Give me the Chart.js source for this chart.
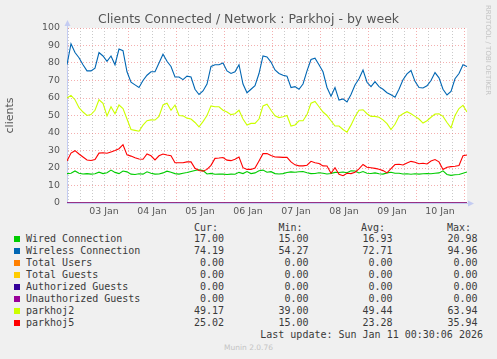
<!DOCTYPE html>
<html>
<head>
<meta charset="utf-8">
<script src="https://cdn.jsdelivr.net/npm/chart.js@4/dist/chart.umd.min.js"></script>
<style>
  body { margin: 0; background: #f0f0f0; }
  #wrap { position: relative; width: 497px; height: 359px; overflow: hidden; }
  #chart { position: absolute; left: 0; top: 0; }
  #title { position: absolute; left: 0; width: 497px; top: 10.5px; text-align: center;
           font: 12.5px "DejaVu Sans", sans-serif; color: #555; line-height: 15px; white-space: nowrap; }
  .mono { position: absolute; font: 10px "DejaVu Sans Mono", monospace; color: #3a3a3a; white-space: pre; line-height: 12px; }
  .sw { position: absolute; width: 6px; height: 6px; }
  #side { position: absolute; left: 492px; top: 5px; font: 7px "DejaVu Sans", sans-serif; color: #c4c4c4;
          white-space: nowrap; line-height: 9px; transform: rotate(90deg); transform-origin: left top; }
  #munin { position: absolute; left: 0; width: 497px; top: 343px; text-align: center;
           font: 7.5px "DejaVu Sans", sans-serif; color: #c4c4c4; line-height: 10px; }
</style>
</head>
<body>
<div id="wrap">
  <canvas id="chart" width="497" height="222"></canvas>
  <div id="title">Clients Connected / Network : Parkhoj - by week</div>
  <div id="side">RRDTOOL / TOBI OETIKER</div>
  <div id="legend"></div>
  <div id="munin">Munin 2.0.76</div>
</div>
<script>
// one sample every 2 hours, starting Fri 02 Jan ~17:30
const dayLabels = ['03 Jan', '04 Jan', '05 Jan', '06 Jan', '07 Jan', '08 Jan', '09 Jan', '10 Jan'];

const wired = [16.8, 17, 18.3, 17, 16.6, 16.8, 16.5, 16.7, 17.6, 16.8,
  17.3, 18.8, 17.5, 16.8, 18.3, 17.8, 16.5, 16.3, 16.7, 16.5,
  17.8, 17, 16.5, 16.6, 17.2, 18.2, 17.6, 16.8, 16.5, 17,
  17.4, 18, 18.6, 19, 18.5, 16.6, 16.9, 16.4, 16.6, 16.5,
  16.3, 16.5, 16.4, 17.5, 16.8, 18, 16.8, 17.2, 18.4, 18.8,
  17.6, 17.9, 16.8, 16.6, 16.8, 17.4, 17.8, 17.6, 17.9, 18,
  17.3, 16.8, 16.9, 17.3, 17, 16.6, 16.9, 17.5, 17.4, 17.7,
  17.3, 18.4, 18.3, 17.2, 18, 17, 16.9, 17.2, 16.7, 16.5,
  17.2, 17.6, 17, 17, 16.6, 16.7, 16.4, 16.7, 16.5, 16.7,
  16.8, 16.7, 17, 17.2, 18.4, 16.3, 15.8, 16.1, 16.3, 17,
  17.7];

const wireless = [79, 91, 86, 83, 79, 75.5, 75.5, 77, 86, 84,
  81, 84, 79, 88, 87, 75, 69, 67.5, 66, 70,
  73, 75, 75, 80, 85, 81, 78, 72, 72, 70.5,
  72.5, 72, 65, 62, 64, 68, 78, 79, 79, 80,
  75.5, 74, 75, 79, 68, 63, 65, 67, 74, 84,
  83.5, 80.5, 76, 74, 73, 72.5, 66, 66.5, 65, 68,
  75.5, 82, 82.7, 79, 75, 66, 61, 66, 58.8, 59.5,
  57.7, 62, 67.4, 71, 76, 69, 66.5, 69.3, 66.5, 65,
  63, 61.8, 60.5, 65, 70.4, 73.8, 75.7, 69.5, 66, 65.7,
  67, 70, 74.5, 71.5, 65, 61.7, 63.8, 71, 74, 79,
  78];

// Total Users / Total Guests / Authorized / Unauthorized are flat at 0.00
const zeroSeries = [0, 0, 0, 0, 0, 0, 0, 0, 0, 0, 0, 0, 0, 0, 0, 0, 0, 0, 0, 0,
  0, 0, 0, 0, 0, 0, 0, 0, 0, 0, 0, 0, 0, 0, 0, 0, 0, 0, 0, 0,
  0, 0, 0, 0, 0, 0, 0, 0, 0, 0, 0, 0, 0, 0, 0, 0, 0, 0, 0, 0,
  0, 0, 0, 0, 0, 0, 0, 0, 0, 0, 0, 0, 0, 0, 0, 0, 0, 0, 0, 0,
  0, 0, 0, 0, 0, 0, 0, 0, 0, 0, 0, 0, 0, 0, 0, 0, 0, 0, 0, 0, 0];

const parkhoj2 = [60, 61.5, 59, 54.5, 52, 50, 50.5, 53, 59, 57,
  49.8, 55, 51, 56, 54, 48, 42, 41.5, 41, 44.5,
  47, 47.5, 47.4, 49.5, 56, 57, 53, 56, 50, 49.8,
  48.5, 48, 46, 43.5, 46.5, 50, 55.5, 55, 55, 53,
  52, 50.5, 51, 53, 48, 44.5, 45.5, 45.5, 48, 55.5,
  56.5, 53, 49.8, 48.8, 49.3, 50, 44, 44.6, 47, 47,
  50.5, 57, 58, 55, 52, 50, 47, 44, 44, 42,
  40.5, 44.5, 49.3, 53, 53.3, 51, 49.5, 49.5, 49, 47.5,
  45.3, 42, 45, 49.5, 51, 52.2, 51, 49.5, 48, 45.7,
  47, 49, 50.8, 51, 49.5, 46, 43, 50, 54, 55.8,
  52];

const parkhoj5 = [24, 28.5, 29.9, 28, 26.3, 24.6, 24.3, 24.8, 28.5, 28.7,
  28.4, 29.2, 30, 31, 33.3, 27.5, 26.8, 25.8, 25.1, 25,
  28, 27, 24.6, 27, 28, 27.4, 27, 23, 23, 23,
  23.5, 23.5, 19.8, 18.6, 18.2, 19.2, 21.5, 25.5, 25.7, 26,
  24.5, 24.2, 25, 26.3, 20.2, 19.2, 19.2, 20, 24, 28.2,
  28.3, 27.2, 26.3, 26.2, 26.1, 26.1, 23.5, 21.8, 21.2, 21.2,
  21.6, 23.8, 23, 22.6, 21.2, 21.1, 17, 20.2, 16.4, 15.6,
  17, 16.8, 17.6, 19.5, 22, 20.4, 20.1, 19.8, 19.3, 18.5,
  17.2, 19.6, 22, 22.1, 21.7, 22.8, 23.8, 23.3, 22.4, 22.7,
  22.3, 24, 24.8, 23.5, 19.2, 20.4, 20.8, 21, 21.4, 27,
  27.4];

const names = ['Wired Connection', 'Wireless Connection', 'Total Users', 'Total Guests',
  'Authorized Guests', 'Unauthorized Guests', 'parkhoj2', 'parkhoj5'];
const colors = ['#00cc00', '#0066b3', '#ff8000', '#ffcc00', '#330099', '#990099', '#ccff00', '#ff0000'];
const seriesData = [wired, wireless, zeroSeries, zeroSeries, zeroSeries, zeroSeries, parkhoj2, parkhoj5];

const curVals = [17.00, 74.19, 0, 0, 0, 0, 49.17, 25.02];
const minVals = [15.00, 54.27, 0, 0, 0, 0, 39.00, 15.00];
const avgVals = [16.93, 72.71, 0, 0, 0, 0, 49.44, 23.28];
const maxVals = [20.98, 94.96, 0, 0, 0, 0, 63.94, 35.94];

const hours = wireless.map((_, i) => i * 2);

const MIDNIGHT = 6.5;   // hours from start to 03 Jan 00:00
const gridMinor = 'rgba(150,150,150,0.5)';
const gridMajor = 'rgba(235,110,110,0.55)';
const axisColor = '#c4ccf2';

const plotBg = {
  id: 'plotBg',
  beforeDraw(chart) {
    const a = chart.chartArea, c = chart.ctx;
    c.save();
    c.fillStyle = '#ffffff';
    c.fillRect(a.left, a.top, a.right - a.left, a.bottom - a.top);
    c.restore();
  }
};

const arrows = {
  id: 'arrows',
  afterDraw(chart) {
    const a = chart.chartArea, c = chart.ctx;
    c.save();
    c.strokeStyle = axisColor;
    c.fillStyle = axisColor;
    c.lineWidth = 1;
    c.beginPath();
    c.moveTo(a.left + 0.5, a.top);
    c.lineTo(a.left + 0.5, a.top - 4);
    c.moveTo(a.right, a.bottom + 0.5);
    c.lineTo(a.right + 3, a.bottom + 0.5);
    c.stroke();
    c.beginPath();
    c.moveTo(a.left - 2.5, a.top - 2);
    c.lineTo(a.left + 3.5, a.top - 2);
    c.lineTo(a.left + 0.5, a.top - 8);
    c.closePath();
    c.fill();
    c.beginPath();
    c.moveTo(a.right + 1, a.bottom - 2.5);
    c.lineTo(a.right + 1, a.bottom + 3.5);
    c.lineTo(a.right + 7, a.bottom + 0.5);
    c.closePath();
    c.fill();
    c.restore();
  }
};

new Chart(document.getElementById('chart'), {
  type: 'line',
  data: {
    labels: hours,
    datasets: seriesData.map((d, i) => ({
      label: names[i],
      data: d,
      borderColor: colors[i],
      borderWidth: 1.1,
      pointRadius: 0,
      tension: 0,
      fill: false,
      order: 10 - i
    }))
  },
  options: {
    responsive: false,
    animation: false,
    devicePixelRatio: 1,
    layout: { padding: { left: 0, right: 30, top: 28, bottom: 0 } },
    plugins: {
      legend: { display: false },
      tooltip: { enabled: false },
      title: { display: false }
    },
    scales: {
      x: {
        type: 'linear',
        min: 0,
        max: 200,
        afterFit: s => { s.height = 19; },
        afterBuildTicks: s => {
          const t = [];
          for (let h = 0.5; h <= 200; h += 6) t.push({ value: h });
          s.ticks = t;
        },
        ticks: {
          autoSkip: false,
          maxRotation: 0,
          padding: 3,
          color: '#555',
          font: { family: 'DejaVu Sans', size: 9.4 },
          callback: v => {
            const k = (v - MIDNIGHT - 12) / 24;
            return Number.isInteger(k) && dayLabels[k] ? dayLabels[k] : '';
          }
        },
        grid: {
          drawTicks: false,
          lineWidth: 1,
          color: ctx => {
            const v = ctx.tick ? ctx.tick.value : 0;
            return (v > 24 && (v - MIDNIGHT) % 24 === 0) ? gridMajor : gridMinor;
          }
        },
        border: { display: true, color: axisColor, width: 1, dash: [1, 2] }
      },
      y: {
        min: 0,
        max: 100,
        afterFit: s => { s.width = 67; },
        ticks: {
          stepSize: 5,
          padding: 7,
          color: '#555',
          font: { family: 'DejaVu Sans', size: 9.4 },
          callback: v => (v % 10 === 0 ? v : '')
        },
        grid: {
          drawTicks: false,
          lineWidth: 1,
          color: ctx => (ctx.tick && ctx.tick.value % 10 === 0 ? gridMajor : gridMinor)
        },
        border: { display: true, color: axisColor, width: 1, dash: [1, 2] },
        title: {
          display: true,
          text: 'clients',
          color: '#555',
          font: { family: 'DejaVu Sans', size: 11 },
          padding: { top: 4, bottom: 0 }
        }
      }
    }
  },
  plugins: [plotBg, arrows]
});

// munin-style legend table under the graph
const legend = document.getElementById('legend');
function addText(txt, left, right, centerY) {
  const d = document.createElement('div');
  d.className = 'mono';
  d.textContent = txt;
  d.style.top = (centerY - 6) + 'px';
  if (left !== null) d.style.left = left + 'px';
  if (right !== null) { d.style.right = (497 - right) + 'px'; d.style.textAlign = 'right'; }
  legend.appendChild(d);
}
const colLeft = [194, 278.5, 361, 447];
const colRight = [224, 308.5, 392.5, 477.5];
['Cur:', 'Min:', 'Avg:', 'Max:'].forEach((h, j) => addText(h, colLeft[j], null, 227.7));
names.forEach((n, i) => {
  const y = 239.3 + i * 12;
  const sw = document.createElement('div');
  sw.className = 'sw';
  sw.style.left = '14px';
  sw.style.top = (y - 3) + 'px';
  sw.style.background = colors[i];
  legend.appendChild(sw);
  addText(n, 26, null, y);
  [curVals, minVals, avgVals, maxVals].forEach((arr, j) => addText(arr[i].toFixed(2), null, colRight[j], y));
});
addText('Last update: Sun Jan 11 00:30:06 2026', null, 483, 335.3);
</script>
</body>
</html>
